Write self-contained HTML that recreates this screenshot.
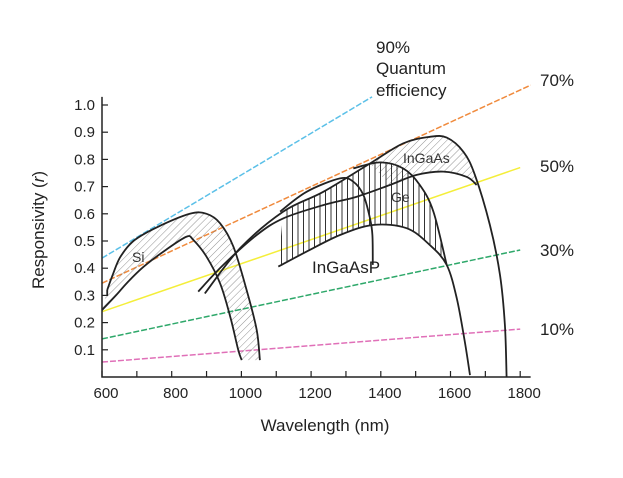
<!DOCTYPE html>
<html><head><meta charset="utf-8"><style>
body{margin:0;background:#fff}
svg{display:block;font-family:"Liberation Sans",sans-serif}
</style></head><body>
<svg id="c" width="623" height="478" viewBox="0 0 623 478">
<defs>
<pattern id="diag" patternUnits="userSpaceOnUse" width="5" height="5" patternTransform="rotate(45)"><line x1="0" y1="0" x2="0" y2="5" stroke="#777" stroke-width="0.8"/></pattern>
<pattern id="vert" patternUnits="userSpaceOnUse" width="5.5" height="5"><line x1="1" y1="0" x2="1" y2="5" stroke="#333" stroke-width="1"/></pattern>
</defs>
<g id="lines"></g><g id="fills"></g><g id="curves"></g><g id="axes"></g>
<text x="132" y="262" font-size="14" fill="#333">Si</text>
<text x="403" y="163" font-size="14" fill="#333">InGaAs</text>
<text x="391" y="202" font-size="14" fill="#333">Ge</text>
<text x="312" y="273" font-size="17" fill="#222">InGaAsP</text>
<text x="376" y="53" font-size="17" fill="#222">90%</text>
<text x="376" y="74" font-size="17" fill="#222">Quantum</text>
<text x="376" y="96" font-size="17" fill="#222">efficiency</text>
<text x="540" y="86" font-size="17" fill="#222">70%</text>
<text x="540" y="172" font-size="17" fill="#222">50%</text>
<text x="540" y="256" font-size="17" fill="#222">30%</text>
<text x="540" y="335" font-size="17" fill="#222">10%</text>
<text x="325" y="431" font-size="17" fill="#222" text-anchor="middle">Wavelength (nm)</text>
<text transform="translate(44,230) rotate(-90)" font-size="17" fill="#222" text-anchor="middle">Responsivity (<tspan font-style="italic">r</tspan>)</text>
</svg>
<script>
const xTicks=[600,800,1000,1200,1400,1600,1800];
const yTicks=[0.1,0.2,0.3,0.4,0.5,0.6,0.7,0.8,0.9,1.0];
const qeNames=['qe-90','qe-70','qe-50','qe-30','qe-10'];
const qeColors=['#5bc0e8','#f08a3c','#f4ee3a','#2ea86a','#e070b8'];
const qeStart=[[600,0.437],[600,0.345],[600,0.24],[600,0.14],[600,0.055]];
const qeEnd=[[1375,1.03],[1830,1.073],[1800,0.77],[1800,0.467],[1800,0.176]];
const siUpper=[[615,0.32],[632,0.38],[652,0.44],[690,0.5],[757,0.55],[852,0.6],[900,0.6],[939,0.565],[977,0.479],[1015,0.32],[1044,0.173],[1053,0.062]];
const siLower=[[600,0.246],[640,0.3],[671,0.345],[719,0.405],[786,0.47],[843,0.516],[862,0.504],[900,0.442],[939,0.344],[968,0.222],[991,0.099],[1001,0.062]];
const ingaasTop=[[895,0.307],[996,0.473],[1120,0.608],[1235,0.681],[1369,0.785],[1464,0.859],[1541,0.883],[1589,0.88],[1637,0.828],[1670,0.743],[1713,0.559],[1742,0.375],[1756,0.191],[1761,0]];
const geUpper=[[876,0.314],[948,0.412],[1044,0.522],[1120,0.583],[1235,0.632],[1331,0.663],[1426,0.706],[1503,0.743],[1579,0.755],[1646,0.736],[1675,0.706]];
const ingaaspUpper=[[1111,0.608],[1187,0.681],[1283,0.73],[1321,0.718],[1350,0.669],[1369,0.583],[1376,0.522],[1377,0.412]];
const lowerCurve=[[1106,0.406],[1187,0.461],[1283,0.522],[1378,0.559],[1474,0.547],[1541,0.485],[1589,0.412],[1618,0.289],[1641,0.13],[1656,0.007]];
const geArc=[[1321,0.767],[1398,0.789],[1464,0.767],[1512,0.706],[1551,0.608],[1589,0.412]];
const X=l=>102+(l-600)/200*69.7, Y=r=>377-r*272;
const NS='http://www.w3.org/2000/svg';
function mk(t,a,p){const e=document.createElementNS(NS,t);for(const k in a)e.setAttribute(k,a[k]);p.appendChild(e);return e;}
function smooth(pts,start){const P=pts.map(p=>[X(p[0]),Y(p[1])]);let d=(start?'M':'L')+P[0][0].toFixed(1)+','+P[0][1].toFixed(1);
for(let i=0;i<P.length-1;i++){const p0=P[i-1]||P[i],p1=P[i],p2=P[i+1],p3=P[i+2]||p2;
d+=` C${(p1[0]+(p2[0]-p0[0])/6).toFixed(1)},${(p1[1]+(p2[1]-p0[1])/6).toFixed(1)} ${(p2[0]-(p3[0]-p1[0])/6).toFixed(1)},${(p2[1]-(p3[1]-p1[1])/6).toFixed(1)} ${p2[0].toFixed(1)},${p2[1].toFixed(1)}`;}return d;}
const gl=document.getElementById('lines'),gf=document.getElementById('fills'),gc=document.getElementById('curves'),ga=document.getElementById('axes');
qeNames.forEach((n,i)=>{const e=mk('line',{x1:X(qeStart[i][0]),y1:Y(qeStart[i][1]),x2:X(qeEnd[i][0]),y2:Y(qeEnd[i][1]),stroke:qeColors[i],'stroke-width':1.5,'stroke-dasharray':i==2?'none':'6 2'},gl);

});
const rev=a=>a.slice().reverse();
const sub=(a,lo,hi)=>a.filter(p=>p[0]>=lo&&p[0]<=hi);
const fillDefs=[['si-hatch',smooth(siUpper,true)+smooth(rev(siLower),false)+'Z','url(#diag)'],
['ingaas-hatch',smooth(sub(ingaasTop,1369,1670),true)+smooth(rev(sub(geUpper,1369,1675)),false)+'Z','url(#diag)'],
['ge-vertical-hatch',smooth(sub(ingaasTop,1120,1369),true)+smooth(geArc.slice(1),false)+smooth(rev(sub(lowerCurve,1106,1589)),false)+'Z','url(#vert)']];
fillDefs.forEach(f=>{const e=mk('path',{d:f[1],fill:f[2],stroke:'none'},gf);

});
const curveDefs=[['si-upper-curve',siUpper],['si-lower-curve',siLower],['ingaas-top-curve',ingaasTop],['ge-upper-curve',geUpper],['ingaasp-upper-curve',ingaaspUpper],['lower-curve',lowerCurve],['ge-arc-curve',geArc]];
curveDefs.forEach(c=>{const e=mk('path',{d:smooth(c[1],true),fill:'none',stroke:'#222','stroke-width':1.8},gc);

});
const sj=mk('path',{d:`M${X(siUpper[0][0])},${Y(siUpper[0][1])}V${Y(siUpper[0][1])+6}`,stroke:'#222','stroke-width':1.8,fill:'none'},gc);


const ax=mk('path',{d:`M102,${Y(1.03)}V377H${X(1830)}`,fill:'none',stroke:'#222','stroke-width':1.5},ga);


for(let l=600;l<=1800;l+=100){mk('line',{x1:X(l),y1:377,x2:X(l),y2:371,stroke:'#222','stroke-width':1.2},ga);}
yTicks.forEach(v=>{mk('line',{x1:102,y1:Y(v),x2:108,y2:Y(v),stroke:'#222','stroke-width':1.2},ga);
const t=mk('text',{x:95,y:Y(v)+5,'font-size':15,'text-anchor':'end',fill:'#222'},ga);t.textContent=v.toFixed(1);

});
xTicks.forEach(v=>{const t=mk('text',{x:X(v)+4,y:398,'font-size':15,'text-anchor':'middle',fill:'#222'},ga);t.textContent=v;

});
</script>
</body></html>
